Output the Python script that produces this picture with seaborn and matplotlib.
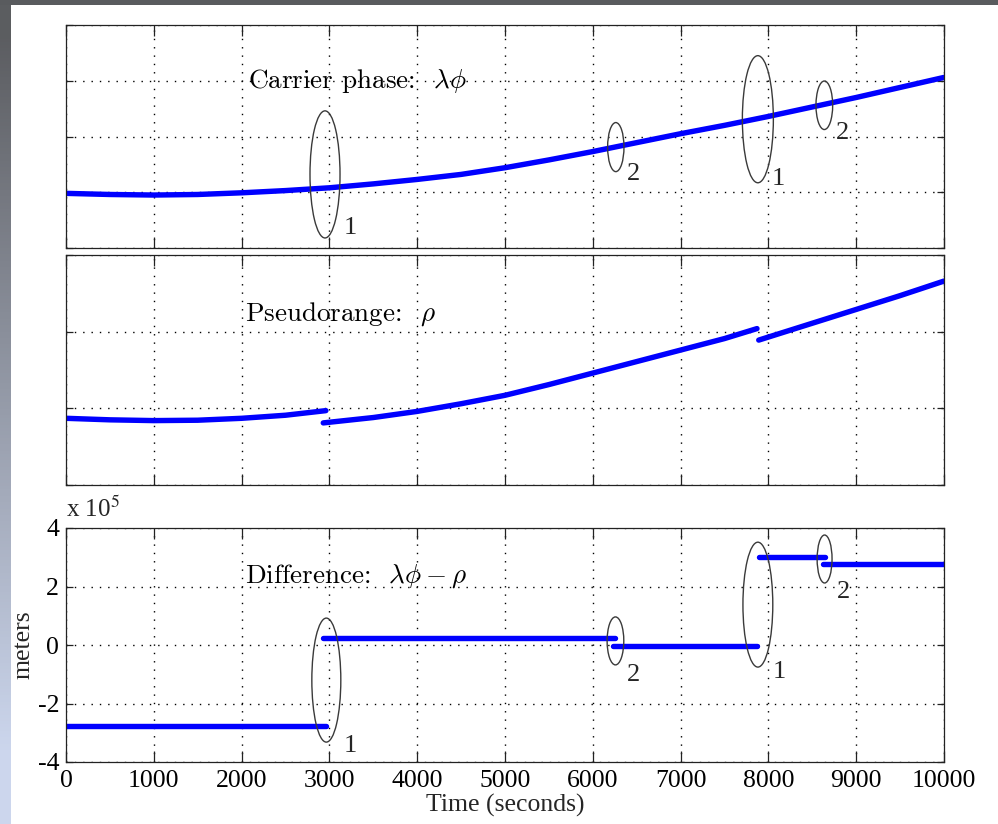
import numpy as np
import pandas as pd
import matplotlib
matplotlib.use("Agg")
import matplotlib.pyplot as plt
import seaborn as sns
from matplotlib.patches import Ellipse
from matplotlib.ticker import FuncFormatter

# ---------------- data ----------------
carrier_t = [0, 500, 1000, 1500, 2000, 2500, 3000, 3500, 4000, 4500, 5000,
             5500, 6000, 6500, 7000, 7500, 8000, 8500, 9000, 9500, 10000]
carrier_v = [0.98, 0.96, 0.95, 0.96, 0.99, 1.03, 1.08, 1.15, 1.23, 1.32, 1.44,
             1.58, 1.73, 1.89, 2.05, 2.20, 2.36, 2.53, 2.70, 2.88, 3.06]

pseudo1_t = [0, 500, 1000, 1500, 2000, 2500, 2960]
pseudo1_v = [0.87, 0.85, 0.84, 0.845, 0.87, 0.91, 0.97]
pseudo2_t = [2930, 3500, 4000, 4500, 5000, 5500, 6000, 6500, 7000, 7500, 7870]
pseudo2_v = [0.81, 0.88, 0.96, 1.06, 1.17, 1.31, 1.46, 1.61, 1.76, 1.91, 2.04]
pseudo3_t = [7890, 8500, 9000, 9500, 10000]
pseudo3_v = [1.89, 2.11, 2.29, 2.47, 2.66]

diff_start = [0, 2930, 6230, 7890, 8620]
diff_end = [2960, 6250, 7870, 8650, 10000]
diff_value = [-2.77e5, 0.24e5, -0.03e5, 3.0e5, 2.77e5]

x_ticks = [0, 1000, 2000, 3000, 4000, 5000, 6000, 7000, 8000, 9000, 10000]
diff_ticks = [-4e5, -2e5, 0, 2e5, 4e5]

# slip markers: (center t, center v, width, height, label, label t, label v)
top_marks = [(2950, 1.32, 342, 2.28, "1", 3235, 0.36),
             (6262, 1.81, 186, 0.88, "2", 6469, 1.32),
             (7880, 2.31, 353, 2.28, "1", 8110, 1.23),
             (8637, 2.56, 190, 0.87, "2", 8846, 2.07)]
bot_marks = [(2965, -1.2e5, 330, 4.24e5, "1", 3235, -3.45e5),
             (6258, 0.14e5, 190, 1.64e5, "2", 6458, -1.03e5),
             (7880, 1.38e5, 340, 4.27e5, "1", 8121, -0.92e5),
             (8640, 2.94e5, 170, 1.64e5, "2", 8850, 1.81e5)]

# ---------------- style ----------------
sns.set_style("ticks")
plt.rcParams["font.family"] = ["Liberation Serif", "DejaVu Serif"]

W, H = 998, 824
fig = plt.figure(figsize=(W / 100, H / 100), dpi=100)
fig.patch.set_facecolor("white")

# slide background strips
grad = np.linspace(0, 1, 256)[:, None]
top_c = np.array([0.36, 0.365, 0.38])
bot_c = np.array([0.80, 0.84, 0.93])
mix = np.clip(grad * 1.15 - 0.05, 0, 1)
img = top_c[None, None, :] * (1 - mix[..., None]) + bot_c[None, None, :] * mix[..., None]
axl = fig.add_axes([0, 0, 11 / W, 1], zorder=-5)
axl.imshow(img, aspect="auto", extent=[0, 1, 0, 1], origin="upper")
axl.axis("off")
axt = fig.add_axes([0, 1 - 5 / H, 1, 5 / H], zorder=-5)
axt.set_facecolor((0.35, 0.355, 0.37))
axt.set_xticks([]); axt.set_yticks([])
for s in axt.spines.values():
    s.set_visible(False)

L, R = 66, 944
def add_ax(top, bottom):
    return fig.add_axes([L / W, 1 - bottom / H, (R - L) / W, (bottom - top) / H])

ax1 = add_ax(25, 248)
ax2 = add_ax(255, 485)
ax3 = add_ax(528, 762)

blue = "#0000ff"
lw = 3.9

df1 = pd.DataFrame({"t": carrier_t, "v": carrier_v, "seg": 0})
sns.lineplot(data=df1, x="t", y="v", units="seg", estimator=None, sort=False,
             color=blue, lw=lw, ax=ax1, solid_capstyle="round")

df2 = pd.concat([
    pd.DataFrame({"t": pseudo1_t, "v": pseudo1_v, "seg": 0}),
    pd.DataFrame({"t": pseudo2_t, "v": pseudo2_v, "seg": 1}),
    pd.DataFrame({"t": pseudo3_t, "v": pseudo3_v, "seg": 2}),
])
sns.lineplot(data=df2, x="t", y="v", units="seg", estimator=None, sort=False,
             color=blue, lw=lw, ax=ax2, solid_capstyle="round")

rows = []
for i, (a, b, v) in enumerate(zip(diff_start, diff_end, diff_value)):
    rows.append({"t": a, "v": v, "seg": i})
    rows.append({"t": b, "v": v, "seg": i})
df3 = pd.DataFrame(rows)
sns.lineplot(data=df3, x="t", y="v", units="seg", estimator=None, sort=False,
             color=blue, lw=lw, ax=ax3, solid_capstyle="round")

for ax, yl, yt in [(ax1, (0, 4), [0, 1, 2, 3, 4]),
                   (ax2, (0, 3), [0, 1, 2, 3]),
                   (ax3, (-4e5, 4e5), diff_ticks)]:
    ax.set_xlim(0, 10000)
    ax.set_ylim(*yl)
    ax.set_xticks(x_ticks)
    ax.set_yticks(yt)
    ax.grid(True, color="black", linestyle=(0, (1, 5)), lw=1.0)
    ax.set_xlabel("")
    ax.set_ylabel("")
    ax.tick_params(direction="in", top=True, right=True, colors="#222222",
                   labelcolor="black", width=0.9)
    ax.tick_params(axis="x", length=8)
    ax.tick_params(axis="y", length=5)
    for s in ax.spines.values():
        s.set_visible(True)
        s.set_color("#222222")
        s.set_linewidth(0.9)

for ax in (ax1, ax2):
    ax.set_xticklabels([])
    ax.set_yticklabels([])

ax3.yaxis.set_major_formatter(FuncFormatter(lambda v, p: f"{v / 1e5:g}".replace("\u2212", "-")))
ax3.tick_params(labelsize=18.5)
ax3.tick_params(axis="x", pad=6)
ax3.tick_params(axis="y", pad=5)
ax3.set_xlabel("Time (seconds)", fontsize=18.5, labelpad=1)
ax3.set_ylabel("meters", fontsize=18.5, labelpad=2)
ax3.text(0, 1.025, r"x 10$^{5}$", transform=ax3.transAxes, fontsize=18,
         ha="left", va="bottom", math_fontfamily="stix")

# annotation text (Computer Modern look)
tk = dict(fontsize=19.5, family="cmr10", math_fontfamily="cm", va="center", ha="left",
          color="black")
ax1.text(2073, 3.0, r"Carrier phase:  $\lambda\phi$", **tk)
ax2.text(2040, 2.23, r"Pseudorange:  $\rho$", **tk)
ax3.text(2040, 2.36e5, r"Difference:  $\lambda\phi - \rho$", **tk)

for ax, marks in [(ax1, top_marks), (ax3, bot_marks)]:
    for (cx, cy, w, h, lab, lx, ly) in marks:
        ax.add_patch(Ellipse((cx, cy), w, h, fill=False, ec="#3a3a3a", lw=1.0, zorder=5))
        ax.text(lx, ly, lab, fontsize=19, ha="center", va="center", zorder=6)

fig.savefig("out.png", dpi=100)
